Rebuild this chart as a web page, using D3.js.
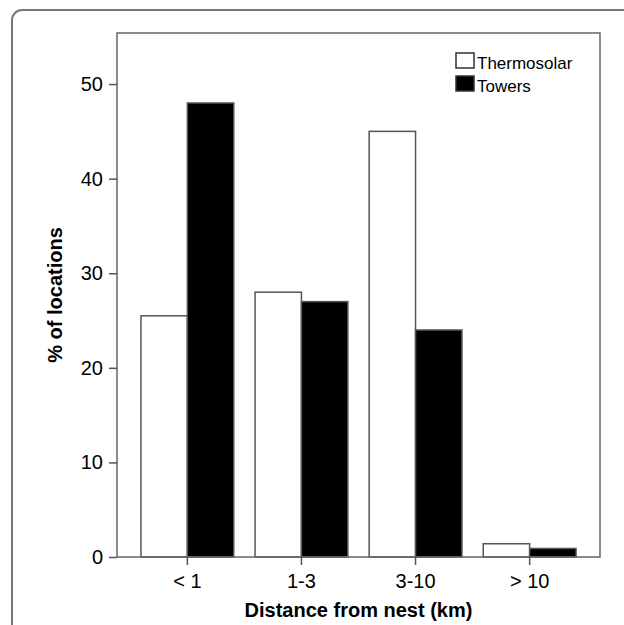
<!DOCTYPE html>
<html><head><meta charset="utf-8">
<script src="https://cdn.jsdelivr.net/npm/d3@7"></script>
<style>body{margin:0;background:#fff}svg{display:block}text{font-family:"Liberation Sans",Arial,sans-serif}</style>
</head><body>
<svg id="c" width="624" height="625"></svg>
<script>
const categories = ["< 1", "1-3", "3-10", "> 10"];
const seriesNames = ["Thermosolar", "Towers"];
const thermosolar = [25.5, 28, 45, 1.4];
const towers = [48, 27, 24, 0.9];
const yTicks = [0, 10, 20, 30, 40, 50];
const xTitle = "Distance from nest (km)";
const yTitle = "% of locations";

const svg = d3.select("#c");
const L = 117, R = 600, T = 33, B = 557;
const fills = ["#fff", "#000"];

// outer rounded frame
svg.append("rect").attr("x", 12).attr("y", 10).attr("width", 700).attr("height", 700)
  .attr("rx", 10).attr("fill", "none").attr("stroke", "#777").attr("stroke-width", 2);

const x = d3.scaleBand().domain(categories).range([L, R]).paddingInner(0.1866).paddingOuter(0.21);
const xs = d3.scaleBand().domain(seriesNames).range([0, x.bandwidth()]);
const y = d3.scaleLinear().domain([0, 55.4]).range([B, T]);

const data = categories.map((c, i) => ({c, vals: [thermosolar[i], towers[i]]}));
const g = svg.append("g");
data.forEach(d => {
  d.vals.forEach((v, j) => {
    g.append("rect")
      .attr("x", x(d.c) + xs(seriesNames[j]))
      .attr("y", y(v))
      .attr("width", xs.bandwidth())
      .attr("height", y(0) - y(v))
      .attr("fill", fills[j]).attr("stroke", "#555").attr("stroke-width", 1.5);
  });
});

// plot box
svg.append("rect").attr("x", L).attr("y", T).attr("width", R - L).attr("height", B - T)
  .attr("fill", "none").attr("stroke", "#666").attr("stroke-width", 1.5);

const ya = svg.append("g").attr("transform", `translate(${L},0)`)
  .call(d3.axisLeft(y).tickValues(yTicks).tickSize(8).tickPadding(6).tickFormat(d3.format("d")));
ya.select(".domain").remove();
ya.selectAll("line").attr("stroke", "#555").attr("stroke-width", 1.5);
ya.selectAll("text").attr("font-size", 20).attr("fill", "#000");

const xa = svg.append("g").attr("transform", `translate(0,${B})`)
  .call(d3.axisBottom(x).tickSize(8).tickPadding(9));
xa.select(".domain").remove();
xa.selectAll("line").attr("stroke", "#555").attr("stroke-width", 1.5);
xa.selectAll("text").attr("font-size", 20).attr("fill", "#000");

svg.append("text").attr("x", (L + R) / 2).attr("y", 617).attr("text-anchor", "middle")
  .attr("font-size", 20).attr("font-weight", "bold").text(xTitle);
svg.append("text").attr("transform", `translate(62,${(T + B) / 2}) rotate(-90)`)
  .attr("text-anchor", "middle").attr("font-size", 20).attr("font-weight", "bold").text(yTitle);

// legend
const lg = svg.append("g");
seriesNames.forEach((n, i) => {
  lg.append("rect").attr("x", 456).attr("y", 53 + i * 23).attr("width", 18).attr("height", 15)
    .attr("fill", fills[i]).attr("stroke", "#333").attr("stroke-width", 1.5);
  lg.append("text").attr("x", 477).attr("y", 69 + i * 22.5).attr("font-size", 17).text(n);
});
</script>
</body></html>
